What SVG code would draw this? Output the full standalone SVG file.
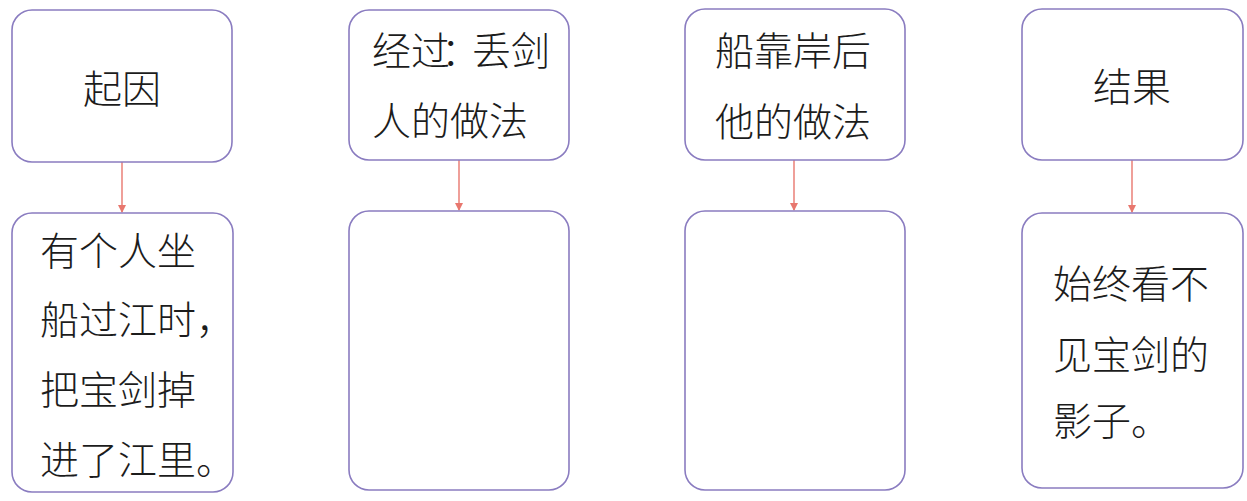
<svg xmlns="http://www.w3.org/2000/svg" width="1247" height="501" viewBox="0 0 1247 501">
<defs>
<marker id="ah" markerWidth="8" markerHeight="10" refX="7" refY="4" orient="auto" markerUnits="userSpaceOnUse" viewBox="0 0 8 8">
<path d="M0,0 L8,4 L0,8 Z" fill="#e8776e"/>
</marker>
<style>
.box{fill:#fff;stroke:#8a7cc0;stroke-width:1.6}
.t{font-family:"Noto Sans CJK SC","Noto Sans",sans-serif;font-size:39px;font-weight:300;fill:#1c1c1c}
.c{stroke:#e8776e;stroke-width:1.4;fill:none}
</style>
</defs>
<rect width="1247" height="501" fill="#fff"/>
<g id="connectors">
<line class="c" x1="122" y1="162" x2="122" y2="212" marker-end="url(#ah)"/>
<line class="c" x1="459" y1="160" x2="459" y2="210" marker-end="url(#ah)"/>
<line class="c" x1="794" y1="160" x2="794" y2="210" marker-end="url(#ah)"/>
<line class="c" x1="1132" y1="160" x2="1132" y2="212" marker-end="url(#ah)"/>
</g>
<g id="cause">
<rect class="box" x="12" y="10" width="220" height="152" rx="20"/>
<text class="t" x="122" y="103" text-anchor="middle">起因</text>
</g>
<g id="process">
<rect class="box" x="349" y="10" width="220" height="150" rx="20"/>
<text class="t" x="372 411 441 472 511" y="65">经过：丢剑</text>
<text class="t" x="372" y="135">人的做法</text>
</g>
<g id="ashore">
<rect class="box" x="685" y="9" width="220" height="151" rx="20"/>
<text class="t" x="715" y="65">船靠岸后</text>
<text class="t" x="715" y="136">他的做法</text>
</g>
<g id="result">
<rect class="box" x="1022" y="9" width="221" height="151" rx="20"/>
<text class="t" x="1132" y="101" text-anchor="middle">结果</text>
</g>
<g id="cause-detail">
<rect class="box" x="12" y="213" width="221" height="279" rx="20"/>
<text class="t" x="40" y="265">有个人坐</text>
<text class="t" x="40" y="334">船过江时，</text>
<text class="t" x="40" y="404">把宝剑掉</text>
<text class="t" x="40" y="474">进了江里。</text>
</g>
<g id="process-detail">
<rect class="box" x="349" y="211" width="220" height="279" rx="20"/>
</g>
<g id="ashore-detail">
<rect class="box" x="685" y="211" width="220" height="279" rx="20"/>
</g>
<g id="result-detail">
<rect class="box" x="1022" y="213" width="221" height="275" rx="20"/>
<text class="t" x="1053" y="298">始终看不</text>
<text class="t" x="1053" y="369">见宝剑的</text>
<text class="t" x="1053" y="435">影子。</text>
</g>
</svg>
